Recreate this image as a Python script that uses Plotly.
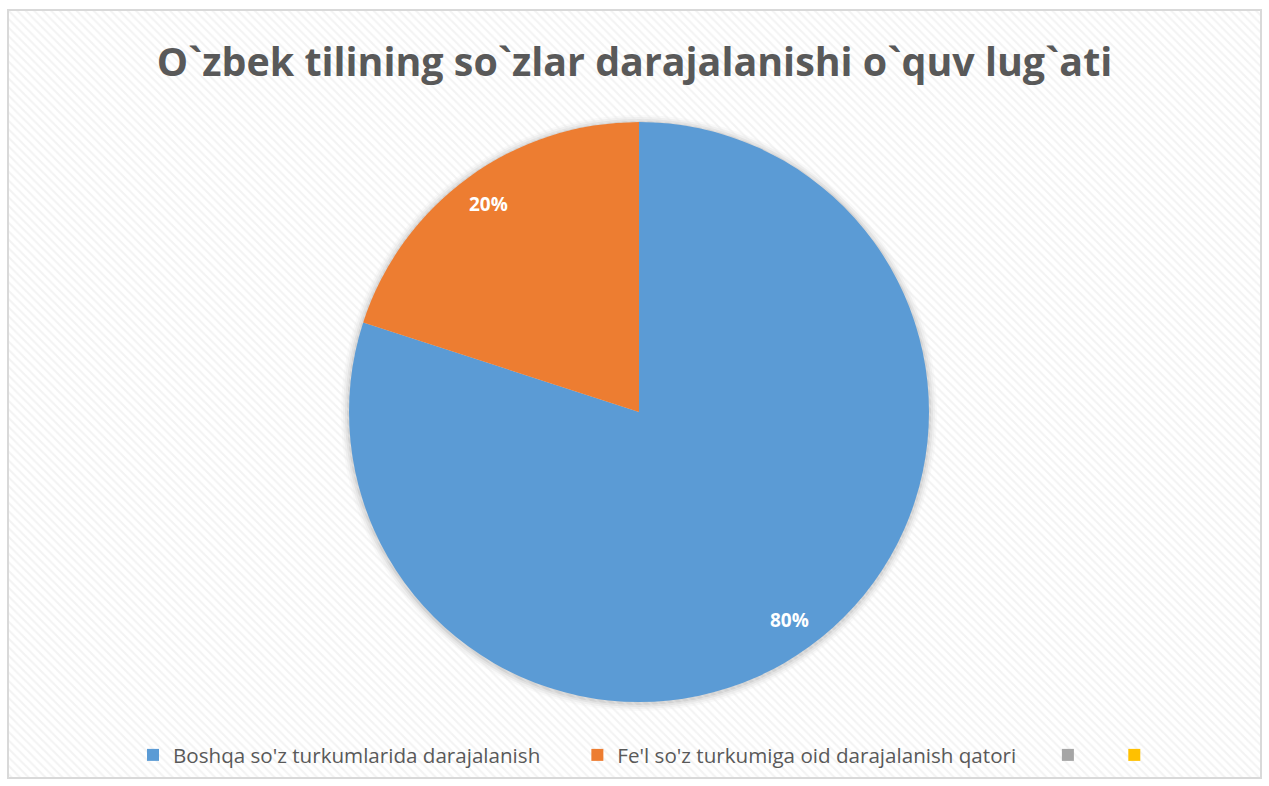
import math
import plotly.graph_objects as go

NB = "\u00a0"
labels = ["Boshqa so'z turkumlarida darajalanish", "Fe'l so'z turkumiga oid darajalanish qatori", " ", "  "]
legend_pad = [6, 5, 3, 0]  # trailing non-breaking spaces for legend spacing
values = [80, 20, 0, 0]
colors = ["#5B9BD5", "#ED7D31", "#A5A5A5", "#FFC000"]
title_text = "O`zbek tilining so`zlar darajalanishi o`quv lug`ati"

W, H = 1269, 786
CX, CY, R = 639, 412, 290  # pie centre / radius in pixels

fig = go.Figure()

# hatched background
fig.add_trace(go.Scatter(
    x=[0, 1, 1, 0, 0], y=[0, 0, 1, 1, 0], mode="lines", fill="toself",
    line=dict(width=0), fillcolor="rgba(0,0,0,0)",
    fillpattern=dict(shape="\\", fgcolor="#E8E8E8", bgcolor="rgba(0,0,0,0)", size=6, solidity=0.35),
    hoverinfo="skip", showlegend=False, xaxis="x", yaxis="y"))

fig.add_trace(go.Pie(
    labels=[l + NB * p for l, p in zip(labels, legend_pad)], values=values,
    sort=False, direction="clockwise", rotation=0,
    marker=dict(colors=colors, line=dict(color="white", width=0)),
    textinfo="none",
    domain=dict(x=[(CX - R) / W, (CX + R) / W], y=[1 - (CY + R) / H, 1 - (CY - R) / H]),
    showlegend=True,
))

# data labels placed near the outer edge (like Excel best fit)
total = sum(values)
annotations = []
cum = 0
for v in values:
    if v > 0:
        mid = (cum + v / 2) / total * 2 * math.pi
        rr = 0.885 * R
        px = CX + rr * math.sin(mid)
        py = CY - rr * math.cos(mid)
        annotations.append(dict(
            x=px / W, y=1 - py / H, xref="paper", yref="paper", showarrow=False,
            xanchor="center", yanchor="middle",
            text=f"{round(v / total * 100)}%",
            font=dict(family="Open Sans", size=19, color="white", weight="bold")))
    cum += v

shapes = []
# soft shadow around the pie
for dr, op in [(8, 0.025), (6, 0.035), (4, 0.05), (2, 0.07)]:
    shapes.append(dict(type="circle", xref="paper", yref="paper", layer="below",
                       x0=(CX - R - dr) / W, x1=(CX + R + dr) / W,
                       y0=1 - (CY + R + dr + 1) / H, y1=1 - (CY - R - dr + 1) / H,
                       line=dict(width=0), fillcolor=f"rgba(0,0,0,{op})"))
# legend box
shapes.append(dict(type="rect", xref="paper", yref="paper", layer="below",
                   x0=108 / W, x1=1170 / W, y0=1 - 778 / H, y1=1 - 732 / H,
                   line=dict(width=0), fillcolor="white"))
# chart border
shapes.append(dict(type="rect", xref="paper", yref="paper", x0=8 / W, x1=1261 / W,
                   y0=1 - 778 / H, y1=1 - 10 / H,
                   line=dict(color="#D9D9D9", width=2), fillcolor="rgba(0,0,0,0)"))

fig.update_layout(
    width=W, height=H,
    margin=dict(l=0, r=0, t=0, b=0),
    paper_bgcolor="white", plot_bgcolor="rgba(0,0,0,0)",
    xaxis=dict(visible=False, range=[0, 1], domain=[9 / W, 1260 / W], fixedrange=True),
    yaxis=dict(visible=False, range=[0, 1], domain=[1 - 777 / H, 1 - 11 / H], fixedrange=True),
    title=dict(text=title_text, x=0.5, xanchor="center", y=1 - 62 / H, yanchor="middle",
               font=dict(family="Open Sans", size=39.4, color="#595959", weight="bold")),
    legend=dict(orientation="h", x=133 / W, xanchor="left", y=1 - 755 / H, yanchor="middle",
                bgcolor="rgba(0,0,0,0)", font=dict(family="Open Sans", size=20.6, color="#595959"),
                itemwidth=30, traceorder="normal"),
    annotations=annotations,
    shapes=shapes,
)

fig.write_html("out.html", post_script="document.body.style.margin='0';",
               config={"displayModeBar": False})
